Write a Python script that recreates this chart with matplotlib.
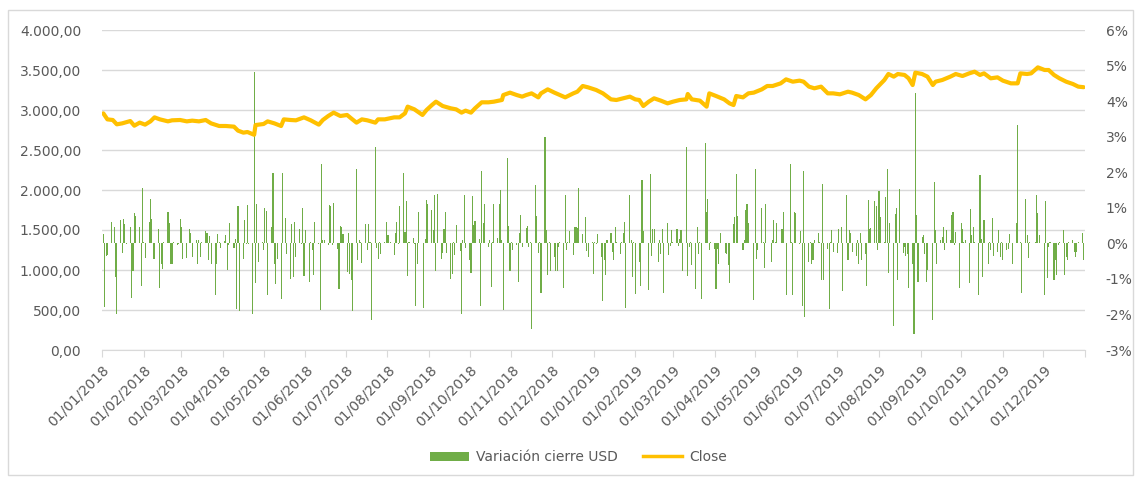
import matplotlib
matplotlib.use('Agg')
import matplotlib.pyplot as plt
from matplotlib.ticker import FuncFormatter, FixedLocator
from matplotlib.patches import Rectangle, Patch
from matplotlib.lines import Line2D
import pandas as pd

# ---------------- data ----------------
close_dates = [
    "2018-01-02", "2018-01-05", "2018-01-09", "2018-01-12", "2018-01-16", "2018-01-22", "2018-01-25", "2018-01-29",
    "2018-02-02", "2018-02-06", "2018-02-09", "2018-02-13", "2018-02-19", "2018-02-22", "2018-02-28",
    "2018-03-05", "2018-03-09", "2018-03-14", "2018-03-19", "2018-03-23", "2018-03-29",
    "2018-04-03", "2018-04-09", "2018-04-12", "2018-04-16", "2018-04-19", "2018-04-24", "2018-04-25",
    "2018-05-01", "2018-05-04", "2018-05-09", "2018-05-14", "2018-05-16", "2018-05-21", "2018-05-25", "2018-05-31",
    "2018-06-05", "2018-06-11", "2018-06-14", "2018-06-18", "2018-06-22", "2018-06-27",
    "2018-07-02", "2018-07-05", "2018-07-09", "2018-07-13", "2018-07-17", "2018-07-23", "2018-07-25", "2018-07-30",
    "2018-08-06", "2018-08-10", "2018-08-14", "2018-08-16", "2018-08-21", "2018-08-27", "2018-08-30",
    "2018-09-03", "2018-09-06", "2018-09-11", "2018-09-17", "2018-09-21", "2018-09-25", "2018-09-28",
    "2018-10-02", "2018-10-05", "2018-10-10", "2018-10-15", "2018-10-19", "2018-10-25", "2018-10-26", "2018-10-31",
    "2018-11-05", "2018-11-09", "2018-11-12", "2018-11-16", "2018-11-21", "2018-11-23", "2018-11-28",
    "2018-12-03", "2018-12-07", "2018-12-11", "2018-12-17", "2018-12-20", "2018-12-24", "2018-12-28",
    "2019-01-03", "2019-01-08", "2019-01-14", "2019-01-18", "2019-01-23", "2019-01-28",
    "2019-02-01", "2019-02-04", "2019-02-07", "2019-02-11", "2019-02-15", "2019-02-20", "2019-02-25",
    "2019-03-01", "2019-03-06", "2019-03-11", "2019-03-12", "2019-03-15", "2019-03-21", "2019-03-26", "2019-03-28",
    "2019-04-02", "2019-04-08", "2019-04-12", "2019-04-15", "2019-04-17", "2019-04-22", "2019-04-26", "2019-04-30",
    "2019-05-06", "2019-05-10", "2019-05-14", "2019-05-20", "2019-05-24", "2019-05-29",
    "2019-06-03", "2019-06-06", "2019-06-10", "2019-06-14", "2019-06-19", "2019-06-24", "2019-06-28",
    "2019-07-03", "2019-07-09", "2019-07-12", "2019-07-17", "2019-07-22", "2019-07-26", "2019-07-30",
    "2019-08-05", "2019-08-08", "2019-08-12", "2019-08-15", "2019-08-20", "2019-08-23", "2019-08-26", "2019-08-28",
    "2019-09-02", "2019-09-06", "2019-09-10", "2019-09-12", "2019-09-17", "2019-09-23", "2019-09-27",
    "2019-10-02", "2019-10-07", "2019-10-11", "2019-10-15", "2019-10-18", "2019-10-23", "2019-10-28",
    "2019-11-01", "2019-11-07", "2019-11-12", "2019-11-14", "2019-11-19", "2019-11-22", "2019-11-27",
    "2019-12-02", "2019-12-05", "2019-12-09", "2019-12-13", "2019-12-18", "2019-12-23", "2019-12-27", "2019-12-31",
]
close_values = [
    2958, 2883, 2875, 2821, 2833, 2862, 2804, 2842,
    2817, 2858, 2908, 2883, 2858, 2871, 2875,
    2858, 2867, 2858, 2875, 2833, 2800,
    2800, 2792, 2742, 2717, 2725, 2690, 2812,
    2825, 2858, 2833, 2800, 2883, 2875, 2871, 2908,
    2871, 2817, 2875, 2925, 2967, 2925,
    2938, 2896, 2842, 2883, 2871, 2842, 2883, 2883,
    2908, 2908, 2958, 3042, 3008, 2938, 3000,
    3062, 3104, 3050, 3021, 3008, 2967, 2992,
    2967, 3021, 3096, 3096, 3104, 3125, 3187, 3217,
    3187, 3167, 3187, 3208, 3158, 3208, 3258,
    3217, 3187, 3158, 3208, 3229, 3300, 3283,
    3250, 3208, 3133, 3125, 3146, 3167,
    3133, 3125, 3050, 3104, 3146, 3117, 3083,
    3104, 3125, 3133, 3200, 3133, 3117, 3042, 3208,
    3175, 3133, 3083, 3062, 3175, 3158, 3208, 3217,
    3258, 3300, 3300, 3333, 3383, 3354,
    3367, 3354, 3292, 3271, 3292, 3208, 3208,
    3196, 3229, 3217, 3187, 3133, 3187, 3271,
    3375, 3450, 3417, 3450, 3438, 3396, 3312, 3467,
    3450, 3417, 3312, 3354, 3375, 3417, 3450,
    3425, 3458, 3479, 3438, 3458, 3396, 3408,
    3367, 3333, 3333, 3458, 3450, 3458, 3533,
    3500, 3500, 3438, 3396, 3354, 3325, 3292, 3285,
]

# daily variation (%), one value per business day starting 2018-01-02
var_h1_2018 = [
    0.27, -1.79, -0.37, -0.34, 0.60, 0.01, 0.46, -0.95, -1.98, 0.65,
    -0.27, 0.68, 0.54, -0.01, 0.46, -1.53, -0.78, 0.84, 0.77, 0.46,
    -1.21, 1.57, 0.04, -0.40, 0.60, 1.26, 0.69, -0.43, -0.45, 0.41,
    -1.25, -0.57, -0.71, 0.04, 0.88, 0.57, -0.59, -0.57, 0.04, -0.05,
    -0.01, 0.69, 0.46, -0.44, -0.41, 0.01, 0.41, 0.29, -0.38, 0.08,
    -0.59, 0.10, -0.38, 0.05, 0.35, 0.29, -0.48, 0.20, -0.57, -1.46,
    -0.59, 0.27, 0.04, -0.12, 0.06, 0.24, -0.76, -0.04, 0.58, -0.12,
    0.11, -1.84, 1.04, -1.89, -0.43, 0.67, -0.01, 1.07, -0.01, -1.98,
    4.83, -1.12, 1.10, -0.53, 0.04, -0.20, 1.00, 0.91, -1.46, 0.46,
    1.98, -0.57, -1.14, -0.43, -1.56, 1.98, 0.01, 0.72, -0.29, -1.00,
    0.55, -0.95, 0.60, -0.38, 0.41, -0.01, 1.00, -0.93, 0.37, -1.09,
    0.04, -0.18, -0.90, 0.60, -0.01, -1.87, 2.24, 0.08, 0.10, -0.06,
    1.07, 1.04, -0.06, 1.14, -0.15, -1.28, 0.49, 0.46, 0.27, -0.81,
    0.29,
]
var_h2_2018 = [
    -0.87, -1.02, -1.89, 2.10, -0.46, 0.10, 0.04, -0.55, 0.54, -0.18,
    0.54, 0.04, -2.17, 2.71, -0.13, -0.43, 0.04, -0.29, 0.04, 0.60,
    0.24, 0.23, 0.04, -0.34, 0.30, 0.60, -0.01, 1.04, 1.98, 0.32,
    1.18, -0.93, 0.04, 0.15, -0.01, -1.75, -0.57, 0.88, 0.01, -1.81,
    0.13, 1.23, 1.10, 0.93, 0.37, 1.37, -0.78, 1.38, -0.43, -0.27,
    0.41, 0.88, -0.27, -1.00, -0.85, 0.04, -0.32, 0.51, -0.22, -2.00,
    0.08, 1.37, -0.13, -0.48, -0.84, 1.33, 0.51, 0.63, 0.13, -1.75,
    2.03, 0.57, 1.12, -0.10, 0.10, -1.23, 0.04, 1.10, 0.16, 1.12,
    1.49, 0.08, -1.87, 2.41, 0.49, -0.78, 0.04, -0.20, -0.06, -1.09,
    0.29, 0.81, -0.10, 0.44, 0.48, -0.10, 0.04, -2.40, 1.65, 0.77,
    -0.27, 0.04, -1.40, 3.00, 0.38, -0.90, 0.04, -0.78, -0.38, -0.78,
    -0.78, -0.10, 0.04, -1.25, 1.37, -0.18, 0.04, 0.35, -0.34, 0.46,
    0.46, 0.43, 1.57, 0.27, 0.01, 0.74, -0.22, -0.38, 0.04, -0.85,
    0.04, -0.02, 0.25,
]
var_h1_2019 = [
    -0.38, -1.61, -0.48, -0.90, 0.08, 0.29, -0.24, -0.48, 0.46, 0.05,
    -0.29, 0.04, 0.29, 0.60, -1.81, 1.35, 0.08, -0.95, 0.04, -1.42,
    -0.53, -1.21, 1.79, 0.35, 0.01, -1.32, 1.96, -0.37, 0.41, 0.41,
    -0.53, 0.08, -0.29, 0.41, -1.40, 0.57, -0.34, -0.08, 0.37, 0.04,
    0.41, -0.08, 0.13, 0.37, -0.78, 2.71, -0.93, -0.10, 0.04, -0.62,
    -1.28, 0.46, -0.29, 0.04, -1.56, 2.83, 0.88, 1.26, -0.18, 0.04,
    -0.15, -1.28, -0.15, -0.59, 0.29, 0.01, -0.27, -0.29, -0.62, -1.12,
    0.54, 0.74, 1.94, 0.76, 0.01, -0.20, 0.08, 0.93, 1.12, 0.57,
    0.01, -1.59, 2.10, -0.43, -0.18, 1.00, 0.04, -0.69, 1.12, 0.01,
    -0.53, 0.10, 0.65, 0.04, 0.57, 0.01, 0.41, 0.88, 0.01, -1.46,
    2.22, 0.04, -1.44, 0.88, 0.84, -0.01, 0.35, -1.75, 2.03, -2.08,
    -0.53, 0.04, -0.57, -0.46, 0.10, 0.29, 0.04, -1.04, 1.68, -1.04,
    -0.15, -1.84, 0.04, 0.37, -0.24, -0.27, 0.41, 0.01, 0.46, -1.34,
    1.37, -0.48, 0.37,
]
var_h2_2019 = [
    0.29, -0.24, -0.37, 0.08, -0.59, 0.30, -0.48, -0.29, -1.21, 1.23,
    0.41, 0.43, 1.19, 1.04, -0.18, 1.46, 0.74, 0.04, 1.30, 2.08,
    -0.84, 0.57, -2.33, 0.82, 1.00, -1.02, 1.54, -0.27, -0.10, -0.37,
    -0.29, -1.25, -0.59, -2.54, 4.22, 0.81, -1.09, 0.18, 0.23, -0.31,
    -1.09, -0.76, 0.01, -2.15, 1.73, 0.37, -0.59, 0.10, 0.18, 0.46,
    -0.18, 0.37, 0.10, 0.79, 0.88, -0.06, 0.32, -1.25, 0.57, 0.41,
    0.04, 0.10, -1.12, 0.96, 0.23, 0.46, 0.04, -1.46, 1.92, 0.13,
    -0.95, 0.65, -0.59, 0.04, -0.20, 0.72, -0.37, -0.24, 0.37, -0.38,
    0.04, -0.46, -0.20, -0.15, 0.25, 0.01, -0.59, 0.57, 3.32, 0.01,
    0.04, -1.40, 1.26, 0.24, -0.40, 0.04, 0.01, 0.04, 1.35, 0.84,
    0.23, 0.01, -1.44, 1.18, -0.97, -0.10, 0.04, -1.02, -0.48, -0.90,
    -0.06, 0.04, 0.37, -0.90, -0.38, -0.48, 0.04, 0.08, -0.24, -0.38,
    -0.24, 0.04, 0.29, -0.48,
]

month_ticks = pd.date_range("2018-01-01", "2020-01-01", freq="MS")
left_ticks = [0, 500, 1000, 1500, 2000, 2500, 3000, 3500, 4000]
right_ticks = [-3, -2, -1, 0, 1, 2, 3, 4, 5, 6]

# ---------------- figure ----------------
GREEN = "#70AD47"
GOLD = "#FFC000"
GRID = "#D9D9D9"
TXT = "#595959"
FS = 10

plt.rcParams["font.family"] = ["DejaVu Sans"]

fig = plt.figure(figsize=(11.39, 4.78), dpi=100)
fig.patches.append(Rectangle((8 / 1139, 3 / 478), 1125 / 1139, 465 / 478,
                             transform=fig.transFigure, fill=False,
                             edgecolor=GRID, linewidth=1.0))

ax = fig.add_axes([102 / 1139, 1 - 350 / 478, 983 / 1139, 320 / 478])
ax2 = ax.twinx()
ax3 = ax.twinx()

# host: left scale + gridlines
ax.set_ylim(0, 4000)
ax.yaxis.set_major_locator(FixedLocator(left_ticks))
ax.yaxis.set_major_formatter(FuncFormatter(
    lambda v, p: f"{v:,.2f}".replace(",", "X").replace(".", ",").replace("X", ".")))
ax.grid(axis="y", color=GRID, linewidth=1.0)
ax.set_axisbelow(True)

# bars on the right scale
var_values = var_h1_2018 + var_h2_2018 + var_h1_2019 + var_h2_2019
var_dates = pd.bdate_range(start="2018-01-02", periods=len(var_values))
ax2.bar(var_dates, var_values, width=0.8, color=GREEN, linewidth=0)
ax2.set_ylim(-3, 6)
ax2.yaxis.set_major_locator(FixedLocator(right_ticks))
ax2.yaxis.set_major_formatter(FuncFormatter(lambda v, p: f"{int(round(v))}%"))

# line on the left scale, on top
ax3.plot(pd.to_datetime(close_dates), close_values, color=GOLD, linewidth=3.0,
         solid_joinstyle="round", solid_capstyle="round")
ax3.set_ylim(0, 4000)
ax3.set_yticks([])

xmin, xmax = pd.Timestamp("2018-01-01"), pd.Timestamp("2020-01-01")
for a in (ax, ax2, ax3):
    a.set_xlim(xmin, xmax)
    for s in a.spines.values():
        s.set_visible(False)

ax.spines["bottom"].set_visible(True)
ax.spines["bottom"].set_color(GRID)
ax.set_xticks(month_ticks)
ax.set_xticklabels([d.strftime("%d/%m/%Y") if d.year < 2020 else "" for d in month_ticks],
                   rotation=45, ha="right", va="top", rotation_mode="anchor",
                   fontsize=FS, color=TXT)
ax.tick_params(axis="x", length=5, color=GRID, pad=4)
ax.tick_params(axis="y", length=0, pad=15, labelsize=FS, labelcolor=TXT)
ax2.tick_params(axis="y", length=0, pad=15, labelsize=FS, labelcolor=TXT)
ax2.tick_params(axis="x", length=0, labelbottom=False)
ax3.tick_params(axis="x", length=0, labelbottom=False)

handles = [Patch(facecolor=GREEN, edgecolor="none"),
           Line2D([], [], color=GOLD, linewidth=2.5)]
fig.legend(handles, ["Variación cierre USD", "Close"], loc="center",
           bbox_to_anchor=(0.508, 1 - 457 / 478), ncol=2, frameon=False,
           fontsize=FS, labelcolor=TXT, handlelength=2.8, handleheight=0.6,
           handletextpad=0.5, columnspacing=1.8)

fig.savefig("out.png", dpi=100)
